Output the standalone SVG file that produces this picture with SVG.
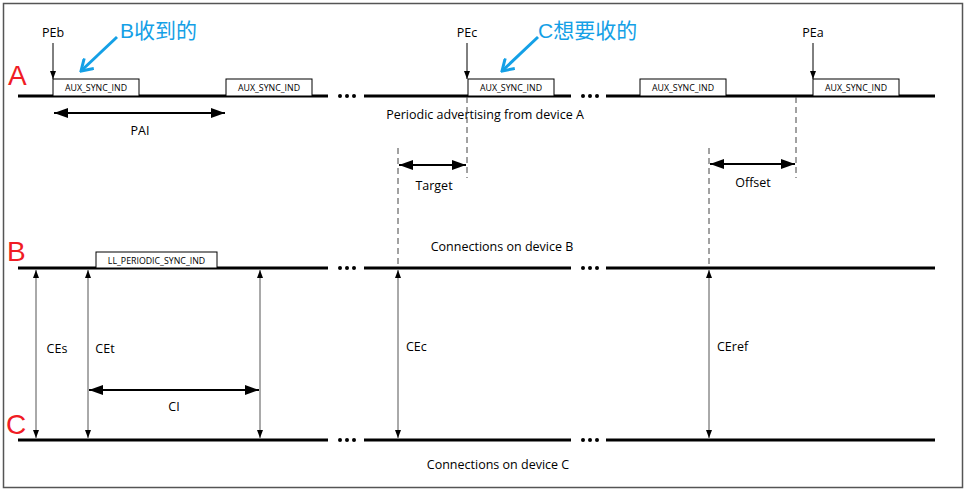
<svg xmlns="http://www.w3.org/2000/svg" width="967" height="491" viewBox="0 0 967 491">
<style>
.t{font-family:"Open Sans","Liberation Sans",sans-serif;fill:#000}
.lbl{font-size:12.5px}
.box{fill:#fff;stroke:#000;stroke-width:1}
.bt{font-family:"Open Sans","Liberation Sans",sans-serif;font-size:8.8px;fill:#000}
.tl{stroke:#000;stroke-width:3}
.dash{stroke:#444;stroke-width:1;stroke-dasharray:6,4;fill:none}
.dbl{stroke:#000;stroke-width:2}
.vt{stroke:#555;stroke-width:1}
.red{font-family:"Liberation Sans",sans-serif;font-size:28px;fill:#f01c24}
.blue{font-family:"Liberation Sans","Noto Sans CJK SC",sans-serif;font-size:21px;fill:#14a0e6}
.bl{stroke:#14a0e6;stroke-width:3;fill:none}
</style>
<defs>
<marker id="sm" markerUnits="userSpaceOnUse" viewBox="0 0 8 6" markerWidth="8" markerHeight="6" refX="8" refY="3" orient="auto-start-reverse"><path d="M0,0 L8,3 L0,6 z" fill="#000"/></marker>
<marker id="big" markerUnits="userSpaceOnUse" viewBox="0 0 14 10" markerWidth="14" markerHeight="10" refX="14" refY="5" orient="auto-start-reverse"><path d="M0,0 L14,5 L0,10 z" fill="#000"/></marker>
<marker id="bv" markerUnits="userSpaceOnUse" viewBox="0 0 14 16" markerWidth="14" markerHeight="16" refX="12" refY="8" orient="auto"><path d="M1,1 L12,8 L1,15" fill="none" stroke="#14a0e6" stroke-width="3"/></marker>
</defs>
<rect x="3.5" y="3.5" width="959" height="484" fill="#fff" stroke="#555" stroke-width="1.5"/>

<g id="timelines">
<g id="lineA">
<line class="tl" x1="18" y1="96" x2="328" y2="96"/><line class="tl" x1="364" y1="96" x2="571" y2="96"/><line class="tl" x1="606" y1="96" x2="935" y2="96"/>
<circle cx="340" cy="96" r="2"/><circle cx="347" cy="96" r="2"/><circle cx="354" cy="96" r="2"/>
<circle cx="583" cy="96" r="2"/><circle cx="590" cy="96" r="2"/><circle cx="597" cy="96" r="2"/>
</g>
<g id="lineB">
<line class="tl" x1="18" y1="268" x2="328" y2="268"/><line class="tl" x1="364" y1="268" x2="571" y2="268"/><line class="tl" x1="606" y1="268" x2="935" y2="268"/>
<circle cx="340" cy="268" r="2"/><circle cx="347" cy="268" r="2"/><circle cx="354" cy="268" r="2"/>
<circle cx="583" cy="268" r="2"/><circle cx="590" cy="268" r="2"/><circle cx="597" cy="268" r="2"/>
</g>
<g id="lineC">
<line class="tl" x1="18" y1="440" x2="328" y2="440"/><line class="tl" x1="364" y1="440" x2="571" y2="440"/><line class="tl" x1="606" y1="440" x2="935" y2="440"/>
<circle cx="340" cy="440" r="2"/><circle cx="347" cy="440" r="2"/><circle cx="354" cy="440" r="2"/>
<circle cx="583" cy="440" r="2"/><circle cx="590" cy="440" r="2"/><circle cx="597" cy="440" r="2"/>
</g>
</g>

<text class="red" x="8" y="85">A</text>
<text class="red" x="7" y="261">B</text>
<text class="red" x="6" y="434">C</text>

<g id="aux1"><rect class="box" x="53" y="79" width="86" height="17"/><text class="bt" x="96" y="91" text-anchor="middle">AUX_SYNC_IND</text></g>
<g id="aux2"><rect class="box" x="226" y="79" width="86" height="17"/><text class="bt" x="269" y="91" text-anchor="middle">AUX_SYNC_IND</text></g>
<g id="aux3"><rect class="box" x="468" y="79" width="86" height="17"/><text class="bt" x="511" y="91" text-anchor="middle">AUX_SYNC_IND</text></g>
<g id="aux4"><rect class="box" x="640" y="79" width="86" height="17"/><text class="bt" x="683" y="91" text-anchor="middle">AUX_SYNC_IND</text></g>
<g id="aux5"><rect class="box" x="813" y="79" width="86" height="17"/><text class="bt" x="856" y="91" text-anchor="middle">AUX_SYNC_IND</text></g>
<g id="llsync"><rect class="box" x="96" y="252" width="121" height="16"/><text class="bt" x="156.5" y="263.5" text-anchor="middle">LL_PERIODIC_SYNC_IND</text></g>

<g id="pe-labels">
<text class="t lbl" x="53" y="37" text-anchor="middle">PEb</text>
<text class="t lbl" x="467" y="37" text-anchor="middle">PEc</text>
<text class="t lbl" x="813" y="37" text-anchor="middle">PEa</text>
</g>
<text class="blue" x="120" y="38">B收到的</text>
<text class="blue" x="538" y="38">C想要收的</text>

<g id="connectors">
<line stroke="#000" stroke-width="1" x1="53" y1="43" x2="53" y2="79" marker-end="url(#sm)"/>
<line stroke="#000" stroke-width="1" x1="467" y1="43" x2="467" y2="79" marker-end="url(#sm)"/>
<line stroke="#000" stroke-width="1" x1="813" y1="43" x2="813" y2="79" marker-end="url(#sm)"/>
<line class="bl" x1="117" y1="37" x2="81" y2="71" marker-end="url(#bv)"/>
<line class="bl" x1="538" y1="37" x2="502" y2="71" marker-end="url(#bv)"/>
<line class="dbl" x1="54" y1="113" x2="225" y2="113" marker-start="url(#big)" marker-end="url(#big)"/>
<line class="dash" x1="467" y1="97" x2="467" y2="178"/>
<line class="dash" x1="398" y1="148" x2="398" y2="267"/>
<line class="dash" x1="796" y1="97" x2="796" y2="178"/>
<line class="dash" x1="709" y1="148" x2="709" y2="267"/>
<line class="dbl" x1="399" y1="165" x2="466" y2="165" marker-start="url(#big)" marker-end="url(#big)"/>
<line class="dbl" x1="710" y1="164" x2="795" y2="164" marker-start="url(#big)" marker-end="url(#big)"/>
<line class="vt" x1="36" y1="270" x2="36" y2="438" marker-start="url(#sm)" marker-end="url(#sm)"/>
<line class="vt" x1="88" y1="270" x2="88" y2="438" marker-start="url(#sm)" marker-end="url(#sm)"/>
<line class="vt" x1="260" y1="270" x2="260" y2="438" marker-start="url(#sm)" marker-end="url(#sm)"/>
<line class="vt" x1="398" y1="270" x2="398" y2="438" marker-start="url(#sm)" marker-end="url(#sm)"/>
<line class="vt" x1="709" y1="270" x2="709" y2="438" marker-start="url(#sm)" marker-end="url(#sm)"/>
<line class="dbl" x1="89" y1="390" x2="259" y2="390" marker-start="url(#big)" marker-end="url(#big)"/>
</g>

<g id="labels">
<text class="t lbl" x="140" y="135" text-anchor="middle">PAI</text>
<text class="t lbl" x="485" y="119" text-anchor="middle">Periodic advertising from device A</text>
<text class="t lbl" x="434" y="190" text-anchor="middle">Target</text>
<text class="t lbl" x="753" y="187" text-anchor="middle">Offset</text>
<text class="t lbl" x="502" y="251" text-anchor="middle">Connections on device B</text>
<text class="t lbl" x="57" y="353" text-anchor="middle">CEs</text>
<text class="t lbl" x="105" y="353" text-anchor="middle">CEt</text>
<text class="t lbl" x="174" y="411" text-anchor="middle">CI</text>
<text class="t lbl" x="406" y="351">CEc</text>
<text class="t lbl" x="717" y="351">CEref</text>
<text class="t lbl" x="498" y="469" text-anchor="middle">Connections on device C</text>
</g>
</svg>
